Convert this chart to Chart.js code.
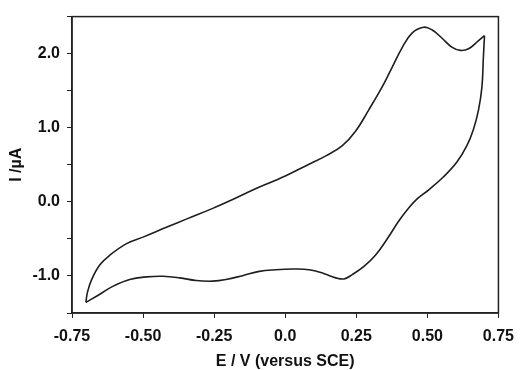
<!DOCTYPE html>
<html>
<head>
<meta charset="utf-8">
<script src="https://cdn.jsdelivr.net/npm/chart.js@4/dist/chart.umd.min.js"></script>
<style>
  html, body { margin: 0; padding: 0; background: #fff; }
  #wrap { width: 523px; height: 370px; }
</style>
</head>
<body>
<div id="wrap"><canvas id="cv" width="523" height="370"></canvas></div>
<script>
// Forward (anodic) sweep, -0.70 V -> +0.70 V
const eForward = [-0.701, -0.696, -0.681, -0.652, -0.617, -0.558, -0.500, -0.418, -0.348, -0.255, -0.185, -0.114, -0.044, 0.002, 0.072, 0.143, 0.201, 0.248, 0.294, 0.341, 0.376, 0.411, 0.446, 0.487, 0.516, 0.551, 0.586, 0.616, 0.645, 0.680, 0.701];
const iForward = [-1.357, -1.225, -1.050, -0.850, -0.720, -0.564, -0.476, -0.344, -0.233, -0.088, 0.031, 0.160, 0.275, 0.352, 0.485, 0.620, 0.758, 0.956, 1.242, 1.551, 1.815, 2.079, 2.278, 2.357, 2.322, 2.211, 2.088, 2.044, 2.066, 2.176, 2.242];

// Reverse (cathodic) sweep, +0.70 V -> -0.70 V
const eReverse = [0.701, 0.697, 0.692, 0.680, 0.662, 0.639, 0.604, 0.557, 0.505, 0.464, 0.435, 0.400, 0.359, 0.318, 0.277, 0.236, 0.207, 0.178, 0.137, 0.084, 0.026, -0.033, -0.091, -0.150, -0.208, -0.255, -0.313, -0.371, -0.430, -0.488, -0.547, -0.605, -0.652, -0.701];
const iReverse = [2.242, 1.947, 1.551, 1.242, 0.978, 0.758, 0.537, 0.339, 0.163, 0.040, -0.079, -0.256, -0.498, -0.718, -0.872, -0.982, -1.040, -1.026, -0.969, -0.916, -0.907, -0.916, -0.938, -0.996, -1.048, -1.070, -1.062, -1.026, -1.004, -1.013, -1.048, -1.137, -1.247, -1.357];

// Axis ticks
const xTicks = [-0.75, -0.50, -0.25, 0.0, 0.25, 0.50, 0.75];
const yLabelled = [-1.0, 0.0, 1.0, 2.0];

const toPoints = (xs, ys) => xs.map((x, i) => ({ x: x, y: ys[i] }));

const FONT = 'Arial, "Liberation Sans", sans-serif';

// box round the plot area (top and right edges)
const frame = {
  id: 'frame',
  afterDraw(chart) {
    const a = chart.chartArea, ctx = chart.ctx;
    ctx.save();
    ctx.strokeStyle = '#222';
    ctx.lineWidth = 1.5;
    ctx.strokeRect(a.left, a.top, a.right - a.left, a.bottom - a.top);
    ctx.restore();
  }
};

const lineStyle = {
  showLine: true,
  borderColor: '#1e1e1e',
  borderWidth: 1.6,
  pointRadius: 0,
  tension: 0.4,
  fill: false
};

new Chart(document.getElementById('cv').getContext('2d'), {
  type: 'scatter',
  data: {
    datasets: [
      Object.assign({ label: 'forward', data: toPoints(eForward, iForward) }, lineStyle),
      Object.assign({ label: 'reverse', data: toPoints(eReverse, iReverse) }, lineStyle)
    ]
  },
  options: {
    responsive: false,
    animation: false,
    layout: { padding: { top: 12, right: 23, left: 0, bottom: 0 } },
    plugins: { legend: { display: false }, tooltip: { enabled: false } },
    scales: {
      x: {
        type: 'linear',
        min: xTicks[0],
        max: xTicks[xTicks.length - 1],
        afterBuildTicks: s => { s.ticks = xTicks.map(v => ({ value: v })); },
        afterFit: s => { s.height = 57; },
        ticks: {
          color: '#111',
          font: { family: FONT, size: 16, weight: 'bold' },
          padding: 9,
          maxRotation: 0,
          callback: v => (v === 0 ? '0.0' : v.toFixed(2))
        },
        grid: { drawOnChartArea: false, drawTicks: true, tickLength: 5, color: '#222', lineWidth: 1 },
        border: { display: true, color: '#222', width: 1.5 },
        title: {
          display: true,
          text: 'E / V (versus SCE)',
          color: '#111',
          font: { family: FONT, size: 16, weight: 'bold', lineHeight: 1.0 },
          padding: { top: 2, bottom: 0 }
        }
      },
      y: {
        type: 'linear',
        min: -1.5,
        max: 2.5,
        ticks: {
          stepSize: 0.5,
          color: '#111',
          font: { family: FONT, size: 16, weight: 'bold' },
          padding: 7,
          callback: v => (yLabelled.some(t => Math.abs(t - v) < 1e-9) ? v.toFixed(1) : '')
        },
        afterFit: s => { s.width = 72; },
        grid: { drawOnChartArea: false, drawTicks: true, tickLength: 5, color: '#222', lineWidth: 1 },
        border: { display: true, color: '#222', width: 1.5 },
        title: {
          display: true,
          text: 'I /µA',
          color: '#111',
          font: { family: FONT, size: 16, weight: 'bold', lineHeight: 1.0 },
          padding: { top: 9, bottom: 0 }
        }
      }
    }
  },
  plugins: [frame]
});
</script>
</body>
</html>
